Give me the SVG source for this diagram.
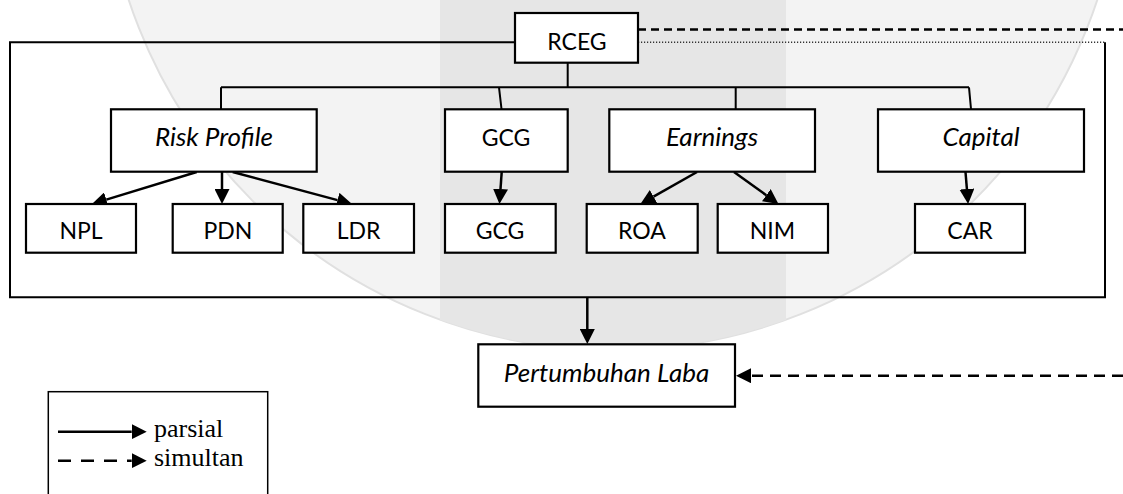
<svg xmlns="http://www.w3.org/2000/svg" width="1123" height="494" viewBox="0 0 1123 494">
<defs>
<marker id="ah" markerUnits="userSpaceOnUse" markerWidth="15" markerHeight="15" refX="0" refY="7.5" orient="auto"><path d="M0,0 L15,7.5 L0,15 z" fill="#000"/></marker>
<clipPath id="circ"><circle cx="613" cy="-160" r="510"/></clipPath>
<style>
.box{fill:#fff;stroke:#000;stroke-width:2.2}
.t{font-family:Lato,"Liberation Sans",sans-serif;font-size:23px;fill:#000;text-anchor:middle}
.i{font-style:italic;font-size:26px}
.ln{fill:none;stroke:#000;stroke-width:2}
.ar{fill:none;stroke:#000;stroke-width:2.5;marker-end:url(#ah)}
.lg{font-family:"Liberation Serif",serif;font-size:26px;fill:#000}
</style>
</defs>
<rect width="1123" height="494" fill="#fff"/>
<g id="watermark">
<circle cx="613" cy="-160" r="510" fill="#f3f3f3" stroke="#e0e0e0" stroke-width="2"/>
<rect x="440" y="-10" width="346" height="400" fill="#e6e6e6" clip-path="url(#circ)"/>
</g>
<g id="connectors">
<path class="ln" d="M515,42.3 H10 V297.3 H1105 V42.3"/>
<path d="M638,42.3 H1105" fill="none" stroke="#333" stroke-width="1.4" stroke-dasharray="1.2 1.8"/>
<path d="M638,29.5 H1123" fill="none" stroke="#000" stroke-width="2.3" stroke-dasharray="8 5"/>
<path class="ln" d="M567.7,62.7 V87.3 M221,87.3 H969 M221,87.3 V109 M499,87.3 L501.5,109 M735.7,87.3 V109 M969,87.3 L971,109"/>
<line class="ar" x1="196.7" y1="172" x2="106.3" y2="199.6"/>
<line class="ar" x1="222" y1="172" x2="222" y2="189"/>
<line class="ar" x1="232.7" y1="172" x2="337.5" y2="200.1"/>
<line class="ar" x1="501.7" y1="172" x2="500.5" y2="189"/>
<line class="ar" x1="697" y1="172" x2="653.5" y2="196.6"/>
<line class="ar" x1="734" y1="172" x2="766.3" y2="195.2"/>
<line class="ar" x1="965.5" y1="172" x2="966.9" y2="189"/>
<line class="ar" x1="587.3" y1="297.3" x2="587.3" y2="329"/>
<line class="ar" x1="1123" y1="375.7" x2="751" y2="375.7" stroke-dasharray="11 7"/>
</g>
<g id="rceg"><rect class="box" x="515" y="13" width="123" height="49.7"/><text class="t" x="577" y="50">RCEG</text></g>
<g id="risk-profile"><rect class="box" x="111" y="109.3" width="205.7" height="62.4"/><text class="t i" x="214" y="146">Risk Profile</text></g>
<g id="gcg1"><rect class="box" x="445" y="109.3" width="122.7" height="62.4"/><text class="t" x="506" y="145.5">GCG</text></g>
<g id="earnings"><rect class="box" x="609.3" y="109.3" width="205.7" height="62.4"/><text class="t i" x="712" y="146">Earnings</text></g>
<g id="capital"><rect class="box" x="878" y="109.3" width="206" height="62.4"/><text class="t i" x="981" y="146">Capital</text></g>
<g id="npl"><rect class="box" x="26" y="204" width="110" height="48.7"/><text class="t" x="81" y="239">NPL</text></g>
<g id="pdn"><rect class="box" x="172.7" y="204" width="110" height="48.7"/><text class="t" x="228" y="239">PDN</text></g>
<g id="ldr"><rect class="box" x="303.3" y="204" width="110.7" height="48.7"/><text class="t" x="358.5" y="239">LDR</text></g>
<g id="gcg2"><rect class="box" x="445" y="204" width="110.7" height="48.7"/><text class="t" x="500" y="239">GCG</text></g>
<g id="roa"><rect class="box" x="586.7" y="204" width="111" height="48.7"/><text class="t" x="642" y="239">ROA</text></g>
<g id="nim"><rect class="box" x="717.7" y="204" width="110.3" height="48.7"/><text class="t" x="772.5" y="239">NIM</text></g>
<g id="car"><rect class="box" x="915" y="204" width="110" height="48.7"/><text class="t" x="970" y="239">CAR</text></g>
<g id="pertumbuhan-laba"><rect class="box" x="478.3" y="344.3" width="256.7" height="62.4"/><text class="t i" x="606.5" y="382">Pertumbuhan Laba</text></g>
<g id="legend">
<rect x="48.3" y="391.7" width="219.4" height="110" fill="#fff" stroke="#000" stroke-width="1.5"/>
<line class="ar" x1="58" y1="431.7" x2="131.7" y2="431.7"/>
<line class="ar" x1="58" y1="460.7" x2="131.7" y2="460.7" stroke-dasharray="13 10"/>
<text class="lg" x="154" y="437">parsial</text>
<text class="lg" x="154" y="466">simultan</text>
</g>
</svg>
